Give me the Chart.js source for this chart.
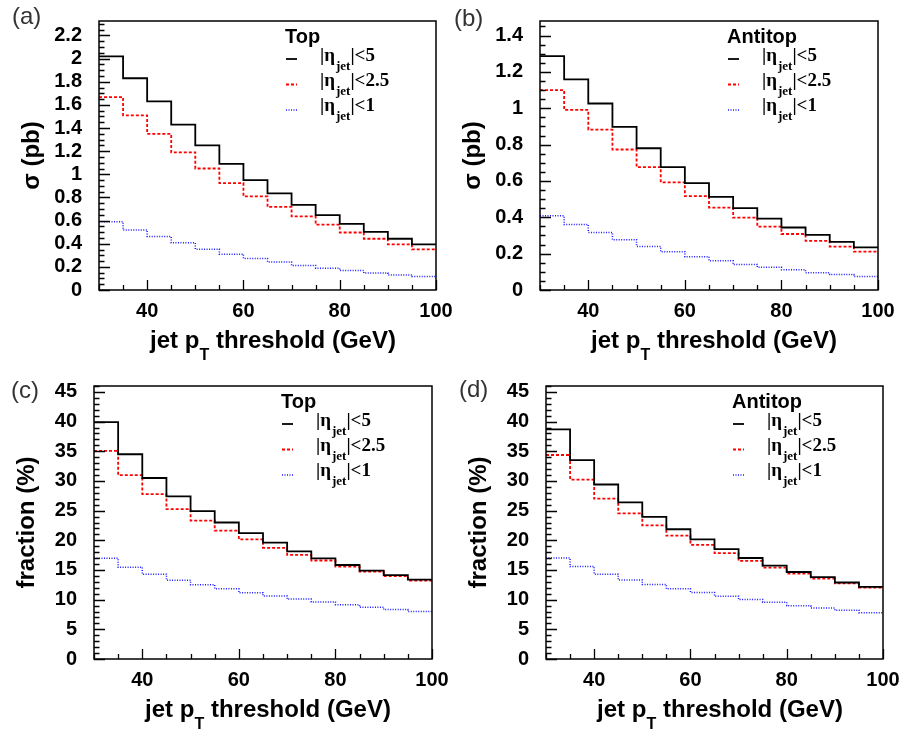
<!DOCTYPE html>
<html>
<head>
<meta charset="utf-8">
<script src="https://cdn.jsdelivr.net/npm/chart.js@4.4.1/dist/chart.umd.min.js"></script>
<style>
  html, body { margin: 0; padding: 0; background: #fff; }
  body { width: 901px; height: 730px; position: relative; overflow: hidden; }
  canvas { position: absolute; }
</style>
</head>
<body>
<canvas id="panelA" width="470" height="365" style="left:0;top:0;"></canvas>
<canvas id="panelB" width="451" height="365" style="left:450px;top:0;"></canvas>
<canvas id="panelC" width="470" height="365" style="left:0;top:365px;"></canvas>
<canvas id="panelD" width="451" height="365" style="left:450px;top:365px;"></canvas>
<script>
// bin edges of the jet pT threshold histograms (GeV)
const binEdges = [30, 35, 40, 45, 50, 55, 60, 65, 70, 75, 80, 85, 90, 95, 100]
const xTickValues = [40, 60, 80, 100]
const etaCuts = ['5', '2.5', '1']

// cross sections (pb), one value per bin
const topSigmaEta5 = [2.02, 1.83, 1.63, 1.43, 1.25, 1.09, 0.95, 0.835, 0.735, 0.647, 0.571, 0.503, 0.443, 0.394]
const topSigmaEta25 = [1.667, 1.51, 1.35, 1.19, 1.05, 0.924, 0.81, 0.718, 0.636, 0.565, 0.497, 0.443, 0.394, 0.351]
const topSigmaEta1 = [0.59, 0.519, 0.462, 0.408, 0.353, 0.31, 0.272, 0.242, 0.212, 0.188, 0.168, 0.147, 0.13, 0.117]
const antiSigmaEta5 = [1.287, 1.159, 1.026, 0.898, 0.78, 0.676, 0.588, 0.512, 0.45, 0.393, 0.344, 0.303, 0.265, 0.234]
const antiSigmaEta25 = [1.1, 0.991, 0.882, 0.773, 0.676, 0.592, 0.516, 0.453, 0.398, 0.349, 0.308, 0.27, 0.239, 0.211]
const antiSigmaEta1 = [0.408, 0.36, 0.317, 0.277, 0.24, 0.211, 0.183, 0.161, 0.14, 0.125, 0.111, 0.095, 0.085, 0.074]

// fractions (%)
const topFracEta5 = [39.9, 34.5, 30.5, 27.4, 24.9, 23.0, 21.2, 19.6, 18.15, 16.97, 15.84, 14.88, 14.12, 13.37]
const topFracEta25 = [35.07, 30.99, 27.77, 25.24, 23.31, 21.64, 20.14, 18.74, 17.56, 16.6, 15.57, 14.72, 13.96, 13.21]
const topFracEta1 = [16.97, 15.47, 14.29, 13.27, 12.51, 11.82, 11.17, 10.63, 10.1, 9.61, 9.13, 8.7, 8.32, 8.0]
const antiFracEta5 = [38.7, 33.5, 29.4, 26.4, 23.95, 21.86, 20.14, 18.53, 17.02, 15.74, 14.66, 13.8, 12.89, 12.14]
const antiFracEta25 = [34.37, 30.24, 27.01, 24.54, 22.5, 20.78, 19.23, 17.83, 16.54, 15.41, 14.39, 13.53, 12.73, 12.03]
const antiFracEta1 = [17.02, 15.57, 14.29, 13.32, 12.57, 11.82, 11.22, 10.58, 10.04, 9.56, 8.97, 8.59, 8.22, 7.79]

// y tick labels
const sigmaTicksTop = [0, 0.2, 0.4, 0.6, 0.8, 1, 1.2, 1.4, 1.6, 1.8, 2, 2.2]
const sigmaTicksAnti = [0, 0.2, 0.4, 0.6, 0.8, 1, 1.2, 1.4]
const fracTicks = [0, 5, 10, 15, 20, 25, 30, 35, 40, 45]

const lineStyles = [
  { color: '#000000', width: 1.8, dash: [] },
  { color: '#ff0000', width: 1.8, dash: [3, 2] },
  { color: '#1a1aff', width: 1.5, dash: [1, 1.5] }
]

const SANS = '"Liberation Sans", Arial, Helvetica, sans-serif'
const SERIF = '"Liberation Serif", "Times New Roman", serif'

function histPoints(values) {
  // last edge repeats the last bin content so the step closes at 100
  return binEdges.map((x, i) => ({ x, y: values[Math.min(i, values.length - 1)] }))
}

const rootStyle = {
  id: 'rootStyle',
  afterDraw(chart, args, o) {
    const { ctx, chartArea: a, scales: { x, y } } = chart
    ctx.save()

    // frame
    ctx.strokeStyle = '#000'
    ctx.lineWidth = 1.5
    ctx.strokeRect(a.left, a.top, a.right - a.left, a.bottom - a.top)

    // inward ticks, ROOT style
    ctx.lineWidth = 1.3
    ctx.beginPath()
    const majorStep = o.yTicks[1] - o.yTicks[0]
    const sub = Math.round(majorStep / o.yMinor)
    const nY = Math.floor(y.max / o.yMinor + 1e-6)
    for (let i = 0; i <= nY; i++) {
      const py = Math.round(y.getPixelForValue(i * o.yMinor)) + 0.5
      const len = i % sub === 0 ? 11 : 5.5
      ctx.moveTo(a.left, py)
      ctx.lineTo(a.left + len, py)
    }
    for (let v = x.min; v <= x.max; v += 5) {
      const px = Math.round(x.getPixelForValue(v)) + 0.5
      const len = xTickValues.includes(v) ? 10 : 5
      ctx.moveTo(px, a.bottom)
      ctx.lineTo(px, a.bottom - len)
    }
    ctx.stroke()

    // panel tag
    ctx.fillStyle = '#333'
    ctx.font = '24px ' + SANS
    ctx.textAlign = 'left'
    ctx.textBaseline = 'middle'
    ctx.fillText(o.tag, o.tagX, o.tagY)

    // y title
    ctx.fillStyle = '#000'
    ctx.font = 'bold 24px ' + SANS
    ctx.save()
    ctx.translate(a.left - 67, (a.top + a.bottom) / 2)
    ctx.rotate(-Math.PI / 2)
    ctx.textAlign = 'center'
    ctx.textBaseline = 'middle'
    ctx.fillText(o.yTitle, 0, 0)
    ctx.restore()

    // x title with subscript T
    const bigFont = 'bold 24px ' + SANS
    const subFont = 'bold 16px ' + SANS
    ctx.textBaseline = 'alphabetic'
    ctx.textAlign = 'left'
    ctx.font = bigFont
    const w1 = ctx.measureText('jet p').width
    const w3 = ctx.measureText(' threshold (GeV)').width
    ctx.font = subFont
    const w2 = ctx.measureText('T').width
    let tx = a.left + 174 - (w1 + w2 + w3) / 2
    const base = a.bottom + 58
    ctx.font = bigFont
    ctx.fillText('jet p', tx, base)
    tx += w1
    ctx.font = subFont
    ctx.fillText('T', tx, base + 12)
    tx += w2
    ctx.font = bigFont
    ctx.fillText(' threshold (GeV)', tx, base)

    // legend
    const lx = a.right - 151
    ctx.font = 'bold 20px ' + SANS
    ctx.textBaseline = 'middle'
    ctx.fillText(o.legendTitle, lx, a.top + 16)
    chart.data.datasets.forEach((ds, i) => {
      const ly = a.top + 38 + 25.5 * i
      ctx.strokeStyle = ds.borderColor
      ctx.lineWidth = ds.borderWidth
      ctx.setLineDash(ds.borderDash || [])
      ctx.beginPath()
      ctx.moveTo(lx + 1, ly)
      ctx.lineTo(lx + 12, ly)
      ctx.stroke()
      ctx.setLineDash([])

      const bl = a.top + 40 + 25 * i
      let ex = a.right - 116
      ctx.fillStyle = '#000'
      ctx.textBaseline = 'alphabetic'
      ctx.font = 'bold 19px ' + SERIF
      ctx.fillText('|\u03b7', ex, bl)
      ex += ctx.measureText('|\u03b7').width
      ctx.font = 'bold 13px ' + SERIF
      ctx.fillText('jet', ex + 1, bl + 9)
      ex += ctx.measureText('jet').width + 1
      ctx.font = 'bold 19px ' + SERIF
      ctx.fillText('|<' + etaCuts[i], ex, bl)
    })

    ctx.restore()
  }
}

function makePanel(id, p) {
  const canvas = document.getElementById(id)
  const W = canvas.width
  const H = canvas.height
  const xAxisH = 60
  return new Chart(canvas, {
    type: 'line',
    data: {
      datasets: p.series.map((vals, i) => ({
        label: '|\u03b7jet|<' + etaCuts[i],
        data: histPoints(vals),
        stepped: 'before',
        order: i,
        borderColor: lineStyles[i].color,
        borderWidth: lineStyles[i].width,
        borderDash: lineStyles[i].dash,
        pointRadius: 0,
        fill: false
      }))
    },
    options: {
      responsive: false,
      animation: false,
      events: [],
      layout: { padding: { left: 0, top: p.area.t, right: W - p.area.r, bottom: H - p.area.b - xAxisH } },
      plugins: {
        legend: { display: false },
        tooltip: { enabled: false },
        rootStyle: {
          tag: p.tag, tagX: p.tagX, tagY: p.tagY,
          yTitle: p.yTitle, legendTitle: p.legendTitle,
          yTicks: p.yTicks, yMinor: p.yMinor
        }
      },
      scales: {
        x: {
          type: 'linear',
          min: 30,
          max: 100,
          grid: { display: false },
          border: { display: false },
          afterFit: s => { s.height = xAxisH },
          afterBuildTicks: s => { s.ticks = xTickValues.map(v => ({ value: v })) },
          ticks: {
            autoSkip: false, maxRotation: 0, padding: 1,
            color: '#000',
            font: { family: SANS, size: 20, weight: 'bold' },
            callback: v => String(v)
          }
        },
        y: {
          min: 0,
          max: p.yMax,
          grid: { display: false },
          border: { display: false },
          afterFit: s => { s.width = p.area.l },
          afterBuildTicks: s => { s.ticks = p.yTicks.map(v => ({ value: v })) },
          ticks: {
            autoSkip: false, padding: 9,
            color: '#000',
            font: { family: SANS, size: 20, weight: 'bold' },
            callback: v => String(v)
          }
        }
      }
    },
    plugins: [rootStyle]
  })
}

makePanel('panelA', {
  area: { l: 99, r: 436, t: 5, b: 290 }, yMax: 2.325, yTicks: sigmaTicksTop, yMinor: 0.05,
  yTitle: '\u03c3 (pb)', legendTitle: 'Top', tag: '(a)', tagX: 12, tagY: 17,
  series: [topSigmaEta5, topSigmaEta25, topSigmaEta1]
})
makePanel('panelB', {
  area: { l: 90, r: 428, t: 5, b: 290 }, yMax: 1.48, yTicks: sigmaTicksAnti, yMinor: 0.05,
  yTitle: '\u03c3 (pb)', legendTitle: 'Antitop', tag: '(b)', tagX: 4, tagY: 19,
  series: [antiSigmaEta5, antiSigmaEta25, antiSigmaEta1]
})
makePanel('panelC', {
  area: { l: 94, r: 432, t: 9, b: 294 }, yMax: 46, yTicks: fracTicks, yMinor: 1,
  yTitle: 'fraction (%)', legendTitle: 'Top', tag: '(c)', tagX: 11, tagY: 26,
  series: [topFracEta5, topFracEta25, topFracEta1]
})
makePanel('panelD', {
  area: { l: 96, r: 433, t: 9, b: 294 }, yMax: 46, yTicks: fracTicks, yMinor: 1,
  yTitle: 'fraction (%)', legendTitle: 'Antitop', tag: '(d)', tagX: 9, tagY: 25,
  series: [antiFracEta5, antiFracEta25, antiFracEta1]
})
</script>
</body>
</html>
